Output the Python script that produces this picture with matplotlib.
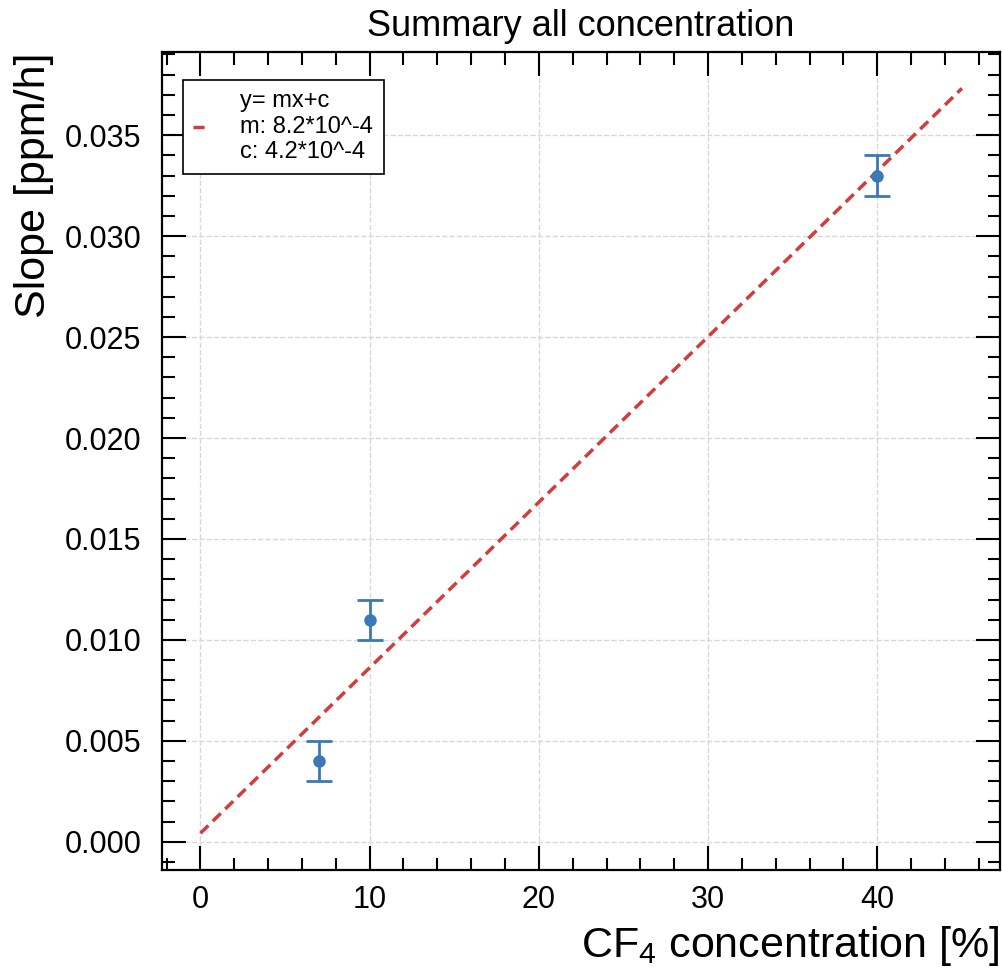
import matplotlib
matplotlib.use('Agg')
from matplotlib import pyplot as plt
from matplotlib.ticker import MultipleLocator, FormatStrFormatter
import numpy as np

plt.rcParams['font.family'] = ['Liberation Sans', 'DejaVu Sans']
plt.rcParams['mathtext.fontset'] = 'custom'
plt.rcParams['mathtext.rm'] = 'Liberation Sans'
plt.rcParams['mathtext.it'] = 'Liberation Sans:italic'

# measured slopes
concentration = [7, 10, 40]
slope = [0.004, 0.011, 0.033]
slope_err = [0.001, 0.001, 0.001]

# linear fit y = m x + c
fit_m = 8.2e-4
fit_c = 4.2e-4
fit_x = np.array([0, 45])

blue = '#3a78b8'
red = '#d43c3c'

fig = plt.figure(figsize=(10.02, 9.71), dpi=100)
ax = fig.add_axes([0.162, 0.104, 0.836, 0.842])

ax.plot(
    fit_x,
    fit_m * fit_x + fit_c,
    linestyle='--',
    dashes=(3.2, 1.8),
    color=red,
    linewidth=2.5,
    label='y= mx+c\nm: 8.2*10^-4\nc: 4.2*10^-4',
    zorder=2
)

ax.errorbar(
    concentration,
    slope,
    yerr=slope_err,
    fmt='o',
    color=blue,
    markersize=8,
    elinewidth=2,
    capsize=9.5,
    capthick=2,
    zorder=3
)

ax.set_xlim(-2.25, 47.25)
ax.set_ylim(-0.0014, 0.0391)

ax.xaxis.set_major_locator(MultipleLocator(10))
ax.xaxis.set_minor_locator(MultipleLocator(2))
ax.yaxis.set_major_locator(MultipleLocator(0.005))
ax.yaxis.set_minor_locator(MultipleLocator(0.001))
ax.yaxis.set_major_formatter(FormatStrFormatter('%.3f'))

ax.tick_params(which='both', direction='in', top=True, right=True, width=1.5, labelsize=22)
ax.tick_params(which='major', length=17)
ax.tick_params(which='minor', length=9)
ax.tick_params(axis='y', which='major', pad=15)
ax.tick_params(axis='x', which='major', pad=11)
for spine in ax.spines.values():
    spine.set_linewidth(1.6)

ax.grid(True, which='major', linestyle='--', color='#d8d8d8', linewidth=1)
ax.set_axisbelow(True)

ax.set_title('Summary all concentration', fontsize=26, pad=12)
ax.set_xlabel('CF$_4$ concentration [%]', fontsize=31, loc='right', labelpad=6)
ax.set_ylabel('Slope [ppm/h]', fontsize=31, loc='top', labelpad=8)

legend = ax.legend(
    loc='upper left',
    bbox_to_anchor=(0.010, 0.981),
    fontsize=17,
    handlelength=0.7,
    handletextpad=1.3,
    fancybox=False,
    edgecolor='black',
    framealpha=1,
    borderpad=0.45,
    labelspacing=0.2
)
legend.get_frame().set_linewidth(1.2)

fig.savefig('out.png', dpi=100)
